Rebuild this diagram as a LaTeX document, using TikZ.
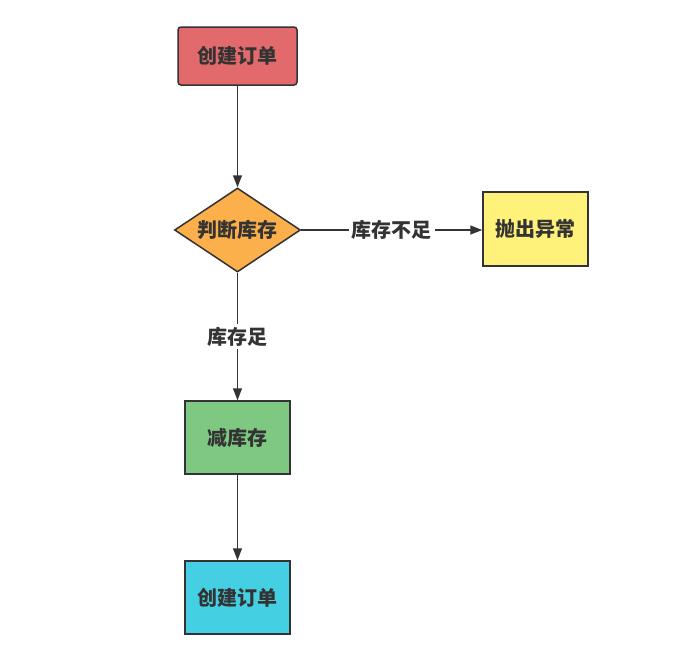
\documentclass[tikz,border=0pt]{standalone}
\usepackage{fontspec}
\setmainfont{Noto Sans CJK SC}
\usetikzlibrary{shapes.geometric,arrows.meta}
\definecolor{cred}{HTML}{E26A6C}
\definecolor{corange}{HTML}{FBB04B}
\definecolor{cyellow}{HTML}{FFF27A}
\definecolor{cgreen}{HTML}{7FC882}
\definecolor{ccyan}{HTML}{45CFE2}
\definecolor{cline}{HTML}{333333}
\tikzset{
  txt/.style={font=\fontsize{20}{24}\selectfont\bfseries, text=cline},
  box/.style={draw=cline, line width=1.5pt, minimum width=#1, inner sep=0pt, txt},
  dia/.style={draw=cline, line width=1.5pt, diamond, aspect=1.5, inner sep=0pt, minimum width=126pt, minimum height=84pt, txt},
  conn/.style={draw=cline, line width=1.5pt, -{Triangle[length=12pt,width=9pt]}},
  lbl/.style={fill=white, inner sep=3pt, txt}
}
\begin{document}
\begin{tikzpicture}[x=1pt,y=-1pt]
\useasboundingbox (0,0) rectangle (692,656);
\fill[white] (0,0) rectangle (692,656);
\node[box=119pt, minimum height=58pt, fill=cred, rounded corners=3pt] (a) at (237.5,56) {创建订单};
\node[dia, fill=corange] (b) at (237.5,230) {判断库存};
\node[box=105pt, minimum height=74pt, fill=cyellow] (c) at (535.5,229) {抛出异常};
\node[box=105pt, minimum height=73pt, fill=cgreen] (d) at (237.5,437.5) {减库存};
\node[box=105pt, minimum height=73pt, fill=ccyan] (e) at (237.5,597.5) {创建订单};
\draw[conn] (a) -- (b);
\draw[conn] (b.east) -- (c.west |- b.east) node[lbl, pos=0.5] (l1) {库存不足};
\draw[conn] (b.south) -- (d.north) node[lbl, pos=0.5] (l2) {库存足};
\draw[conn] (d) -- (e);
\end{tikzpicture}
\end{document}
